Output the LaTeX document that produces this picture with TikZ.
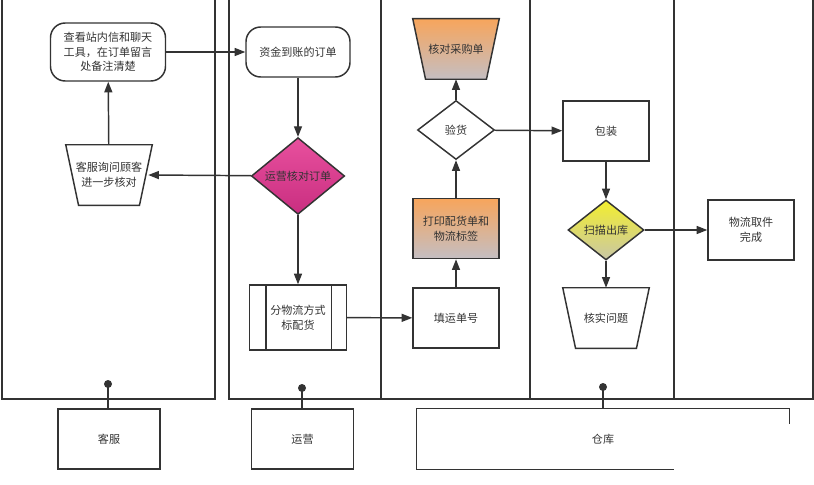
\documentclass[tikz,border=0pt]{standalone}
\usepackage{fontspec}
\newfontfamily\cjk{Noto Sans CJK SC}
\usetikzlibrary{positioning,arrows.meta,calc,shapes.geometric}

\definecolor{linegray}{HTML}{333333}
\definecolor{pinkA}{HTML}{E8509E}
\definecolor{pinkB}{HTML}{C92E80}
\definecolor{orangeA}{HTML}{F7A55C}
\definecolor{orangeB}{HTML}{C4BEC2}
\definecolor{yellowA}{HTML}{F2EE2E}
\definecolor{yellowB}{HTML}{C9C7A6}

% trapezoid outline round a plain node: #1 = node name, #2 = fill options
\newcommand{\trapout}[2]{%
  \draw[line width=1.1pt, draw=linegray, #2] (#1.north west) -- (#1.north east)
    -- ([xshift=-9.6pt]#1.south east) -- ([xshift=9.6pt]#1.south west) -- cycle;}

\begin{document}
\begin{tikzpicture}[x=0.75pt, y=-0.75pt, >={Triangle[length=8pt, width=6pt]},
  every node/.style={font=\cjk\fontsize{8.3}{10.9}\selectfont, text=linegray, align=center},
  box/.style={draw=linegray, line width=1.1pt, minimum width=64.5pt, minimum height=45pt, inner sep=0pt, fill=white},
  rbox/.style={box, rounded corners=11pt},
  dia/.style={draw=linegray, line width=1.1pt, diamond, inner sep=0pt, fill=white},
  trap/.style={minimum width=64.5pt, minimum height=45pt, inner sep=0pt},
  lanebox/.style={box, minimum width=76.5pt},
  flow/.style={->, line width=1.1pt, draw=linegray},
  lane/.style={line width=1.5pt, draw=linegray}]
  \useasboundingbox (0,0) rectangle (814,485);

  % swim lanes
  \draw[lane] (2,-5) rectangle (215,399);
  \draw[lane] (229,-5) rectangle (813,399);
  \draw[lane] (381,-5) -- (381,399);
  \draw[lane] (530,-5) -- (530,399);
  \draw[lane] (674,-5) -- (674,399);

  % customer service
  \node[rbox, minimum width=86.25pt, minimum height=43.5pt] (msg) at (108,52) {查看站内信和聊天\\工具，在订单留言\\处备注清楚};
  \node[trap] (ask) at (109,175) {};
  \trapout{ask}{fill=white}
  \node at (ask) {客服询问顾客\\进一步核对};

  % operations
  \node[rbox, minimum width=78pt, minimum height=37.5pt] (paid) at (298,52) {资金到账的订单};
  \node[dia, minimum width=70pt, minimum height=45pt, top color=pinkA, bottom color=pinkB] (opchk) at (298,176) {运营核对订单};
  \node[box, minimum width=72.75pt, minimum height=48.75pt] (split) at (298,317.5) {分物流方式\\标配货};
  \draw[line width=1.1pt, draw=linegray] ($(split.north west)+(17,0)$) -- ($(split.south west)+(17,0)$);
  \draw[line width=1.1pt, draw=linegray] ($(split.north east)+(-16,0)$) -- ($(split.south east)+(-16,0)$);

  % warehouse
  \node[box] (waybill) at (456,318) {填运单号};
  \node[box, above=21pt of waybill, top color=orangeA, bottom color=orangeB] (print) {打印配货单和\\物流标签};
  \node[dia, minimum width=57.75pt, minimum height=44.25pt] (check) at (456,130) {验货};
  \node[trap] (po) at (456,49) {};
  \trapout{po}{top color=orangeA, bottom color=orangeB}
  \node at (po) {核对采购单};
  \node[box] (pack) at (606,131) {包装};
  \node[dia, minimum width=57pt, minimum height=45pt, top color=yellowA, bottom color=yellowB] (scan) at (606,230) {扫描出库};
  \node[trap] (issue) at (606,318) {};
  \trapout{issue}{fill=white}
  \node at (issue) {核实问题};
  \node[box] (pickup) at (751,230) {物流取件\\完成};

  % flow
  \draw[flow] (msg) -- (paid);
  \draw[flow] (paid) -- (opchk);
  \draw[flow] (opchk) -- ([xshift=-3pt]ask.east);
  \draw[flow] (ask) -- (msg);
  \draw[flow] (opchk) -- (split);
  \draw[flow] (split) -- (waybill);
  \draw[flow] (waybill) -- (print);
  \draw[flow] (print) -- (check);
  \draw[flow] (check) -- (po);
  \draw[flow] (check) -- (pack);
  \draw[flow] (pack) -- (scan);
  \draw[flow] (scan) -- (pickup);
  \draw[flow] (scan) -- (issue);

  % lane labels
  \node[lanebox] (cs) at (109,439) {客服};
  \node[lanebox] (ops) at (302.5,439) {运营};
  \node[minimum width=279pt, minimum height=45pt, inner sep=0pt] (wh) at (603,439) {仓库};
  \draw[line width=1.1pt, draw=linegray] ([xshift=192.75pt]wh.south west) -- (wh.south west) -- (wh.north west)
    -- (wh.north east) -- ([yshift=-11.25pt]wh.north east);
  \coordinate (csdot) at (108,384);
  \coordinate (opsdot) at (302,388);
  \coordinate (whdot) at (603,387);
  \fill[linegray] (csdot) circle (3pt);
  \fill[linegray] (opsdot) circle (3pt);
  \fill[linegray] (whdot) circle (3pt);
  \draw[line width=1.1pt, draw=linegray] (csdot) -- (csdot |- cs.north);
  \draw[line width=1.1pt, draw=linegray] (opsdot) -- (opsdot |- ops.north);
  \draw[line width=1.1pt, draw=linegray] (whdot) -- (whdot |- wh.north);
\end{tikzpicture}
\end{document}
